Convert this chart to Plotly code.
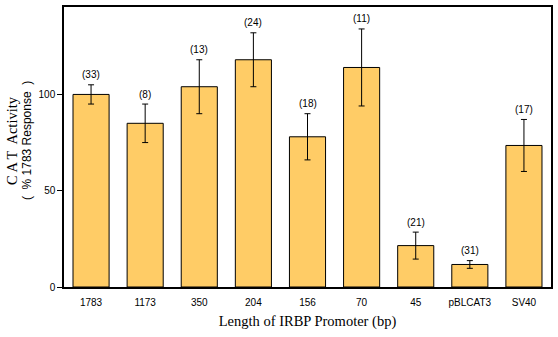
import plotly.graph_objects as go

# CAT activity for IRBP promoter deletion constructs
constructs = ["1783", "1173", "350", "204", "156", "70", "45", "pBLCAT3", "SV40"]
activity = [100, 85, 104, 118, 78, 114, 21.5, 11.7, 73.5]
sem = [5, 10, 14, 14, 12, 20, 7, 2, 13.5]
n_obs = [33, 8, 13, 24, 18, 11, 21, 31, 17]

fig = go.Figure()
fig.add_trace(go.Bar(
    x=list(range(len(constructs))),
    y=activity,
    width=0.667,
    marker=dict(color="#FFCC66", line=dict(color="black", width=1)),
    error_y=dict(type="data", array=sem, visible=True, color="black",
                 thickness=1, width=3),
    showlegend=False,
))

# sample sizes above each error bar
for i, (v, e, n) in enumerate(zip(activity, sem, n_obs)):
    fig.add_annotation(x=i, y=v + e, text=f"({n})", showarrow=False,
                       yshift=10, font=dict(family="Liberation Sans", size=10, color="black"))

# two-line y title
fig.add_annotation(xref="paper", yref="paper", x=0, y=0.521, xshift=-52,
                   xanchor="center", yanchor="middle",
                   text="C A T  Activity", textangle=-90, showarrow=False,
                   font=dict(family="Liberation Serif", size=14.5, color="black"))
fig.add_annotation(xref="paper", yref="paper", x=0, y=0.521, xshift=-37,
                   xanchor="center", yanchor="middle",
                   text="(  % 1783 Response  )", textangle=-90, showarrow=False,
                   font=dict(family="Liberation Sans", size=12, color="black"))

fig.update_layout(
    width=558, height=337,
    margin=dict(l=64, r=6, t=5, b=50),
    paper_bgcolor="white", plot_bgcolor="white",
    xaxis=dict(
        range=[-0.5, 8.5],
        tickmode="array", tickvals=list(range(len(constructs))), ticktext=constructs,
        showline=True, linecolor="black", linewidth=1.5, mirror=True,
        ticks="", showgrid=False, zeroline=False,
        ticklabelstandoff=5,
        tickfont=dict(family="Liberation Sans", size=10, color="black"),
        title=dict(text="Length of IRBP Promoter (bp)", standoff=9,
                   font=dict(family="Liberation Serif", size=14.5, color="black")),
    ),
    yaxis=dict(
        range=[0, 145.4],
        tickvals=[0, 50, 100],
        showline=True, linecolor="black", linewidth=1.5, mirror=True,
        ticks="outside", ticklen=5, tickcolor="black", tickwidth=1,
        showgrid=False, zeroline=False,
        tickfont=dict(family="Liberation Sans", size=10, color="black"),
    ),
)

fig.write_html("out.html")
